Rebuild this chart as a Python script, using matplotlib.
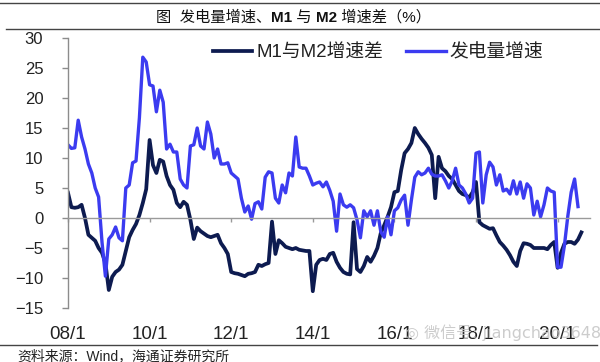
import matplotlib
matplotlib.use("Agg")
import matplotlib.pyplot as plt
import numpy as np

# 数据：2008/1 起的月度数据（%）
m1_m2_gap = [
    4.2, 1.8, 1.7, 1.8, 2.2, 0.0, -2.8, -3.3, -3.8, -5.0, -5.8, -7.5,
    -12.0, -9.8, -9.0, -8.6, -7.8, -5.5, -3.2, -2.0, -1.0, 0.5, 2.5, 4.8,
    13.0, 8.8, 7.5, 9.7, 9.4, 7.0, 5.5, 4.7, 2.5, 1.8, 2.7, 2.2,
    -0.3, -3.5, -1.6, -2.2, -2.6, -3.0, -3.2, -3.0, -2.8, -4.2, -5.0, -6.0,
    -9.0, -9.2, -9.3, -9.5, -9.7, -9.3, -9.2, -9.0, -7.8, -8.0, -7.7, -7.5,
    -0.6, -6.0, -3.7, -4.2, -4.8, -5.0, -5.2, -5.0, -5.3, -5.4, -5.5, -5.5,
    -12.2, -7.8, -7.0, -6.8, -7.0, -6.0, -5.8, -7.3, -8.3, -9.0, -9.3, -9.4,
    -0.7, -8.5, -9.0, -8.0, -6.5, -7.3, -6.3, -5.0, -2.5, -1.2, 0.2, 1.8,
    4.3, 4.5, 8.0, 10.8, 11.5, 12.5, 15.0, 14.0, 13.2, 12.5, 11.7, 10.5,
    3.3, 10.2, 8.3, 7.8, 7.0, 6.5, 5.5, 4.5, 4.0, 3.8, 3.4, 4.3,
    6.0, -0.7, -1.2, -1.5, -1.8, -1.7, -2.9, -4.0, -4.6, -5.3, -6.2, -7.3,
    -8.0, -5.5, -4.2, -4.3, -4.5, -5.0, -5.0, -5.0, -5.0, -5.2, -4.5, -4.0,
    -8.3, -5.8, -4.3, -4.0, -4.0, -4.3, -3.6, -2.4,
]
power_growth = [
    12.2, 11.6, 11.7, 16.3, 13.5, 11.5, 9.0, 7.5, 5.0, 3.5, -4.0, -9.7,
    -3.5, -2.8, -1.5, -3.3, -3.8, 5.0, 5.5, 9.2, 9.5, 16.7, 26.8, 26.0,
    22.2, 22.0, 17.7, 21.3, 19.3, 11.5, 12.3, 11.0, 11.0, 6.5, 5.5, 5.0,
    12.0, 12.2, 15.0, 12.0, 11.5, 16.0, 14.0, 10.0, 11.5, 9.0, 9.0, 9.2,
    7.5, 7.0, 6.5, 3.3, 1.0, 2.0, -0.2, 2.4, 2.7, 1.5, 6.8, 7.7,
    7.5, 3.3, 2.5, 5.5, 4.2, 7.5, 7.0, 13.5, 8.5, 8.3, 8.3, 7.0,
    5.5, 5.8, 6.0, 5.2, 6.0, 4.6, 2.8, -2.2, 4.0, 2.2, 1.8, 2.2,
    1.7, -0.3, -3.3, 1.2, 0.2, 1.2, -1.2, 1.2, -2.3, -3.2, 0.2, -2.8,
    1.2, 1.7, 3.0, 3.8, -1.2, 3.0, 6.8, 7.7, 7.2, 7.5, 8.3, 7.3,
    7.0, 7.0, 7.2, 6.2, 5.0, 6.2, 8.3, 5.5, 5.0, 4.0, 2.5, 3.3,
    10.8, 11.0, 2.5, 7.2, 9.3, 8.5, 5.5, 7.2, 4.5, 4.8, 4.0, 6.2,
    4.0, 6.0, 3.3, 5.7, 5.0, 0.5, 2.8, 0.2, 2.2, 5.0, 4.5, 4.3,
    -8.2, -8.2, -4.6, 0.3, 4.3, 6.5, 1.9,
]
tick_labels = ['08/1', '10/1', '12/1', '14/1', '16/1', '18/1', '20/1']
y_ticks = [-15, -10, -5, 0, 5, 10, 15, 20, 25, 30]

navy = '#0d1b50'
blue = '#3b3bf0'
fonts = ['Liberation Sans', 'Noto Sans CJK SC']

fig = plt.figure(figsize=(6.0, 3.62), dpi=100)
ax = fig.add_axes([68 / 600, 1 - 308 / 362, 522 / 600, 270 / 362])

x1 = np.arange(len(m1_m2_gap))
x2 = np.arange(len(power_growth))
ax.plot(x1, m1_m2_gap, color=navy, lw=2.7, label='M1与M2增速差', solid_joinstyle='round')
ax.plot(x2, power_growth, color=blue, lw=2.4, label='发电量增速', solid_joinstyle='round')

# 坐标轴
ax.set_xlim(0, 522 / 3.4)
ax.set_ylim(-15, 30)
ax.set_yticks(y_ticks)
ax.set_xticks(np.arange(len(tick_labels)) * 24)
ax.set_xticklabels(tick_labels)

for side in ['top', 'right']:
    ax.spines[side].set_visible(False)
ax.spines['left'].set_color('#8c8c8c')
ax.spines['bottom'].set_color('#9a9a9a')
ax.spines['bottom'].set_position(('data', 0))  # 0 轴线
ax.spines['left'].set_linewidth(1.0)
ax.spines['bottom'].set_linewidth(1.0)

ax.tick_params(axis='y', direction='out', length=4.3, width=1.0, color='#8c8c8c',
               pad=13.5, labelsize=12, labelcolor='#222222')
ax.tick_params(axis='x', direction='out', length=3, width=1.0, color='#9a9a9a',
               pad=75, labelsize=13.5, labelcolor='#222222')
for lab in ax.get_xticklabels() + ax.get_yticklabels():
    lab.set_family(fonts)

# 图例
leg = fig.legend(loc='center left', bbox_to_anchor=(213 / 600, 1 - 53 / 362),
                 ncol=2, frameon=False, borderpad=0, borderaxespad=0,
                 handlelength=2.1, handletextpad=0.2, columnspacing=1.25,
                 prop={'family': fonts, 'size': 13.5})
for t in leg.get_texts():
    t.set_color('#222222')

# 标题（M1、M2 加粗），逐段排版
title_parts = [('图  发电量增速、', 'normal'), ('M1', 'bold'), (' 与 ', 'normal'),
               ('M2', 'bold'), (' 增速差（%）', 'normal')]
renderer = fig.canvas.get_renderer()
x_px = 156
for txt, wt in title_parts:
    t = fig.text(x_px / 600, 1 - 22 / 362, txt, ha='left', va='baseline',
                 family=fonts, fontsize=11, weight=wt, color='#111111')
    x_px += t.get_window_extent(renderer).width

# 分隔线和资料来源
fig.add_artist(plt.Line2D([0, 1], [1 - 3 / 362, 1 - 3 / 362], color='#444444', lw=1.0))
fig.add_artist(plt.Line2D([0.01, 1], [1 - 29 / 362, 1 - 29 / 362], color='#444444', lw=1.0))
fig.add_artist(plt.Line2D([0, 0.995], [1 - 345 / 362, 1 - 345 / 362], color='#444444', lw=1.0))
fig.text(17 / 600, 1 - 356 / 362, '资料来源：Wind，海通证券研究所', ha='left', va='center',
         family=fonts, fontsize=10, color='#222222')

# 水印
fig.text(405 / 600, 1 - 333 / 362, '◎ 微信号: jiangchao3648', ha='left', va='center',
         family=['DejaVu Sans', 'Noto Sans CJK SC'], fontsize=11.5, color='#c4c4c4',
         alpha=0.85, zorder=10)

fig.savefig('out.png', dpi=100)
